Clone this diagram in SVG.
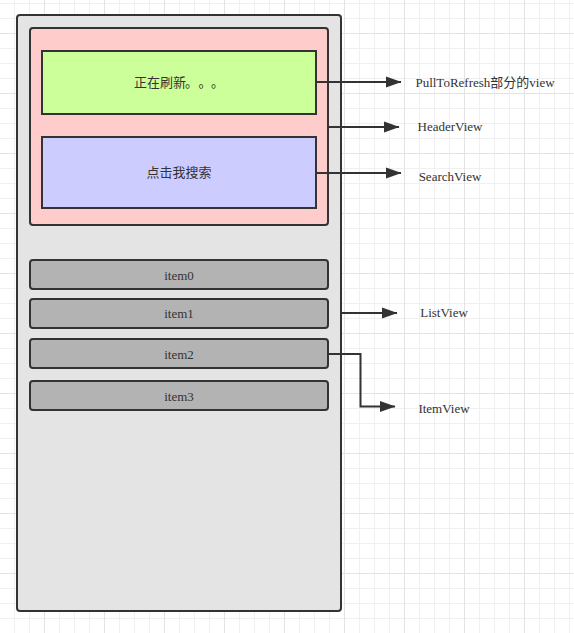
<svg xmlns="http://www.w3.org/2000/svg" width="574" height="633" viewBox="0 0 574 633">
<style>
.box{stroke:#333;stroke-width:2}
.lbl{font-family:"Liberation Serif","Noto Sans CJK SC",serif;font-size:13px;fill:#333}
.cn{font-family:"Noto Sans CJK SC","Liberation Sans",sans-serif;font-size:13px;fill:#333}
.con{fill:none;stroke:#333;stroke-width:2}
</style>
<defs>
<pattern id="grid" x="44" y="33" width="60" height="60" patternUnits="userSpaceOnUse">
<path d="M15.5 0V60M30.5 0V60M45.5 0V60M0 15.5H60M0 30.5H60M0 45.5H60" stroke="#f0f0f0" stroke-width="1"/>
<path d="M0.5 0V60M0 0.5H60" stroke="#e3e3e3" stroke-width="1"/>
</pattern>
<marker id="arr" markerWidth="16" markerHeight="12" refX="15" refY="6" orient="auto" markerUnits="userSpaceOnUse">
<path d="M0 0.5L15.5 6L0 11.5Z" fill="#333"/>
</marker>
</defs>
<rect width="574" height="633" fill="#fff"/>
<rect width="574" height="633" fill="url(#grid)"/>
<g id="phone"><rect class="box" x="17" y="15" width="324" height="596" rx="3" fill="#e4e4e4"/></g>
<g id="header"><rect class="box" x="30" y="28" width="298" height="197" rx="3" fill="#ffcccc"/></g>
<g id="refresh"><rect class="box" x="42" y="51" width="274" height="63" fill="#ccff99"/><text class="cn" x="134" y="86.5">正在刷新<tspan x="185">。</tspan><tspan x="198.5">。</tspan><tspan x="211">。</tspan></text></g>
<g id="search"><rect class="box" x="42" y="137" width="274" height="71" fill="#ccccff"/><text class="cn" x="179" y="177" text-anchor="middle">点击我搜索</text></g>
<g id="item0"><rect class="box" x="30" y="260" width="298" height="29" rx="3" fill="#b3b3b3"/><text class="lbl" x="179" y="279.5" text-anchor="middle">item0</text></g>
<g id="item1"><rect class="box" x="30" y="299" width="298" height="29" rx="3" fill="#b3b3b3"/><text class="lbl" x="179" y="318" text-anchor="middle">item1</text></g>
<g id="item2"><rect class="box" x="30" y="339" width="298" height="29" rx="3" fill="#b3b3b3"/><text class="lbl" x="179" y="358.5" text-anchor="middle">item2</text></g>
<g id="item3"><rect class="box" x="30" y="381" width="298" height="29" rx="3" fill="#b3b3b3"/><text class="lbl" x="179" y="400.5" text-anchor="middle">item3</text></g>
<g id="connectors">
<path class="con" d="M316 82H401" marker-end="url(#arr)"/>
<path class="con" d="M328 127H399" marker-end="url(#arr)"/>
<path class="con" d="M316 173H401" marker-end="url(#arr)"/>
<path class="con" d="M341 313H397" marker-end="url(#arr)"/>
<path class="con" d="M328 354H360.5V406.5H395" marker-end="url(#arr)"/>
</g>
<g id="labels">
<text class="lbl" x="485" y="86.5" text-anchor="middle">PullToRefresh部分的view</text>
<text class="lbl" x="450" y="131" text-anchor="middle">HeaderView</text>
<text class="lbl" x="450" y="181" text-anchor="middle">SearchView</text>
<text class="lbl" x="444" y="317" text-anchor="middle">ListView</text>
<text class="lbl" x="444" y="413" text-anchor="middle">ItemView</text>
</g>
</svg>
